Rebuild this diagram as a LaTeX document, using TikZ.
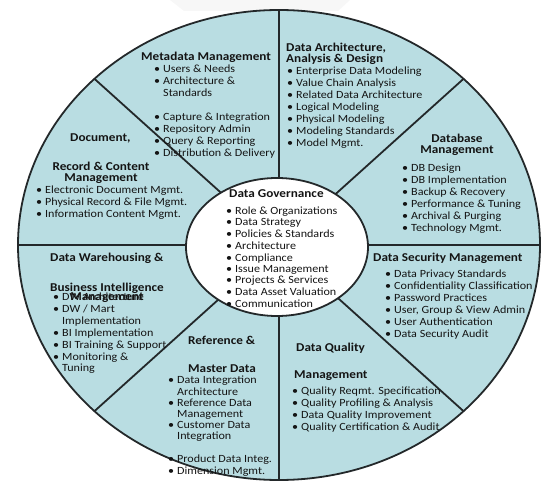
\documentclass[tikz,border=0pt]{standalone}
\usepackage{fontspec}
\setmainfont{Carlito}[FakeStretch=1.1]
\usetikzlibrary{shapes.geometric}

\definecolor{wheelfill}{RGB}{185,221,226}
\definecolor{wheelline}{RGB}{35,40,42}
\definecolor{wheeltext}{RGB}{20,20,20}

% bullet line and continuation line
\newcommand{\bl}[1]{\strut\makebox[9pt][l]{\textbullet}#1}
\newcommand{\ct}[1]{\strut\hspace*{9pt}#1}

\begin{document}
\begin{tikzpicture}[
    x=1pt, y=-1pt,
    % styles
    spoke/.style={draw=wheelline, line width=1.8pt},
    rim/.style={draw=wheelline, line width=1.8pt},
    hub/.style={ellipse, draw=wheelline, fill=white, line width=1.8pt, minimum width=182pt, minimum height=138pt, inner sep=0pt},
    area/.style={font=\fontsize{12}{11}\selectfont\bfseries, text=wheeltext, inner sep=0pt, anchor=north west},
    items/.style={font=\fontsize{11}{10.8}\selectfont, text=wheeltext, inner sep=0pt, align=left, anchor=north west}
]
    \useasboundingbox (0,0) rectangle (547,484);
    \fill[gray!6] (170,0) -- (350,0) -- (338,11) -- (184,11) -- cycle;

    % =========================================================
    % wheel: rim, spokes and the hub
    % =========================================================
    \coordinate (centre) at (279,245);
    \fill[wheelfill] (centre) ellipse [x radius=261, y radius=235];
    \foreach \a in {0,45,...,315}
        \draw[spoke] (centre) -- ++(\a:261 and 235);
    \draw[rim] (centre) ellipse [x radius=261, y radius=235];
    \node[hub] (gov) at (277,247) {};

    % =========================================================
    % Data Governance (hub)
    % =========================================================
    \node[area] (govT) at (229,189) {Data Governance};
    \node[items] (govL) at (226,207) {\bl{Role \& Organizations}\\ \bl{Data Strategy}\\ \bl{Policies \& Standards}\\ \bl{Architecture}\\ \bl{Compliance}\\ \bl{Issue Management}\\ \bl{Projects \& Services}\\ \bl{Data Asset Valuation}\\ \bl{Communication}};

    % =========================================================
    % Metadata Management
    % =========================================================
    \node[area] (metaT) at (141,52) {Metadata Management};
    \node[items] (metaA) at (154,65) {\bl{Users \& Needs}\\ \bl{Architecture \&}\\ \ct{Standards}};
    \node[items] (metaB) at (154,113) {\bl{Capture \& Integration}\\ \bl{Repository Admin}\\ \bl{Query \& Reporting}\\ \bl{Distribution \& Delivery}};

    % =========================================================
    % Data Architecture, Analysis & Design
    % =========================================================
    \node[area, align=left] (archT) at (286,43) {Data Architecture,\\ Analysis \& Design};
    \node[items] (archL) at (287,67) {\bl{Enterprise Data Modeling}\\ \bl{Value Chain Analysis}\\ \bl{Related Data Architecture}\\ \bl{Logical Modeling}\\ \bl{Physical Modeling}\\ \bl{Modeling Standards}\\ \bl{Model Mgmt.}};

    % =========================================================
    % Database Management
    % =========================================================
    \node[area, align=center, anchor=north] (dbT) at (457,134) {Database\\ Management};
    \node[items] (dbL) at (402,164) {\bl{DB Design}\\ \bl{DB Implementation}\\ \bl{Backup \& Recovery}\\ \bl{Performance \& Tuning}\\ \bl{Archival \& Purging}\\ \bl{Technology Mgmt.}};

    % =========================================================
    % Data Security Management
    % =========================================================
    \node[area] (secT) at (373,253) {Data Security Management};
    \node[items] (secL) at (385,270) {\bl{Data Privacy Standards}\\ \bl{Confidentiality Classification}\\ \bl{Password Practices}\\ \bl{User, Group \& View Admin}\\ \bl{User Authentication}\\ \bl{Data Security Audit}};

    % =========================================================
    % Data Quality Management
    % =========================================================
    \node[area] (qualT) at (296,343) {Data Quality};
    \node[area] (qualM) at (294,371) {Management};
    \node[items] (qualL) at (292,387) {\bl{Quality Reqmt. Specification}\\ \bl{Quality Profiling \& Analysis}\\ \bl{Data Quality Improvement}\\ \bl{Quality Certification \& Audit}};

    % =========================================================
    % Reference & Master Data
    % =========================================================
    \node[area] (refT) at (188,336) {Reference \&};
    \node[area] (refM) at (188,365) {Master Data};
    \node[items] (refA) at (168,376) {\bl{Data Integration}\\ \ct{Architecture}\\ \bl{Reference Data}\\ \ct{Management}\\ \bl{Customer Data}\\ \ct{Integration}};
    \node[items] (refB) at (168,455) {\bl{Product Data Integ.}\\ \bl{Dimension Mgmt.}};

    % =========================================================
    % Data Warehousing & Business Intelligence Management
    % =========================================================
    \node[area] (dwT) at (50,253) {Data Warehousing \&};
    \node[area] (dwB) at (50,283) {Business Intelligence};
    \node[items] (dwL) at (53,293) {\bl{DW Architecture}\\ \bl{DW / Mart}\\ \ct{Implementation}\\ \bl{BI Implementation}\\ \bl{BI Training \& Support}\\ \bl{Monitoring \&}\\ \ct{Tuning}};
    \node[area, anchor=north] (dwM) at (107,293) {Management};

    % =========================================================
    % Document, Record & Content Management
    % =========================================================
    \node[area] (docT) at (70,134) {Document,};
    \node[area, align=center, anchor=north] (docR) at (101,162) {Record \& Content\\ Management};
    \node[items] (docL) at (36,186) {\bl{Electronic Document Mgmt.}\\ \bl{Physical Record \& File Mgmt.}\\ \bl{Information Content Mgmt.}};

\end{tikzpicture}
\end{document}
